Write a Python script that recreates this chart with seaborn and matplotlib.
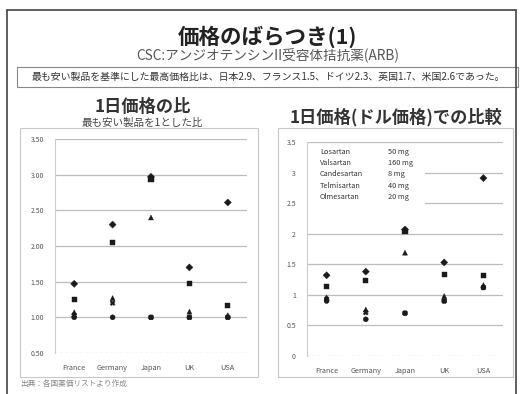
import numpy as np
import pandas as pd
import matplotlib
matplotlib.use("Agg")
import matplotlib.pyplot as plt
from matplotlib.patches import Rectangle
import seaborn as sns

# chart values
countries = ["France", "Germany", "Japan", "UK", "USA"]
drugs = ["Losartan", "Valsartan", "Candesartan", "Telmisartan", "Olmesartan"]
doses = ["50 mg", "160 mg", "8 mg", "40 mg", "20 mg"]

# ratio to the cheapest product (left)
ratio_france = [1.47, 1.25, 1.07, 1.03, 1.00]
ratio_germany = [2.30, 2.05, 1.27, 1.20, 1.00]
ratio_japan = [2.97, 2.93, 2.40, 1.00, 1.00]
ratio_uk = [1.70, 1.48, 1.08, 1.00, 1.00]
ratio_usa = [2.61, 1.17, 1.03, 1.00, 1.00]

# daily price in dollars (right)
usd_france = [1.32, 1.14, 0.96, 0.93, 0.90]
usd_germany = [1.38, 1.23, 0.76, 0.71, 0.60]
usd_japan = [2.07, 2.04, 1.69, 0.70, 0.70]
usd_uk = [1.53, 1.34, 0.98, 0.90, 0.90]
usd_usa = [2.91, 1.32, 1.16, 1.12, 1.12]

left_ticks = [0.5, 1.0, 1.5, 2.0, 2.5, 3.0, 3.5]
right_ticks = [0, 0.5, 1, 1.5, 2, 2.5, 3, 3.5]


def long_table(cols):
    rows = []
    for c, vals in zip(countries, cols):
        for d, v in zip(drugs, vals):
            rows.append({"country": c, "drug": d, "value": v})
    return pd.DataFrame(rows)


ratio_df = long_table([ratio_france, ratio_germany, ratio_japan, ratio_uk, ratio_usa])
usd_df = long_table([usd_france, usd_germany, usd_japan, usd_uk, usd_usa])

sns.set_style("white")
plt.rcParams["font.family"] = ["Noto Sans CJK JP", "DejaVu Sans"]

W, H = 525, 394
fig = plt.figure(figsize=(W / 100, H / 100), dpi=100)


def px(x0, y0, x1, y1):
    # pixel box -> figure fraction [left, bottom, width, height]
    return [x0 / W, 1 - y1 / H, (x1 - x0) / W, (y1 - y0) / H]


def fx(x):
    return x / W


def fy(y):
    return 1 - y / H


# slide frame
fig.add_artist(plt.Line2D([fx(7), fx(516)], [fy(10), fy(10)], color="#444444", lw=1.2))
fig.add_artist(plt.Line2D([fx(7), fx(7)], [fy(10), 0], color="#444444", lw=1.2))
fig.add_artist(plt.Line2D([fx(516), fx(516)], [fy(10), 0], color="#444444", lw=1.2))

# chart frames
for x0, x1 in [(20, 258), (278, 513)]:
    fig.add_artist(Rectangle((fx(x0), fy(377)), fx(x1) - fx(x0), fy(128) - fy(377),
                             fill=False, ec="#c8c8c8", lw=0.8, transform=fig.transFigure))

# headings
fig.text(fx(268), fy(37), "価格のばらつき(1)", ha="center", va="center",
         fontsize=15.5, fontweight="bold", color="#222222")
fig.text(fx(268), fy(56), "CSC:アンジオテンシンII受容体拮抗薬(ARB)", ha="center", va="center",
         fontsize=9.8, color="#555555")
fig.add_artist(Rectangle((fx(17), fy(87)), fx(518) - fx(17), fy(67) - fy(87),
                         fill=False, ec="#888888", lw=0.8, transform=fig.transFigure))
fig.text(fx(268), fy(77),
         "最も安い製品を基準にした最高価格比は、日本2.9、フランス1.5、ドイツ2.3、英国1.7、米国2.6であった。",
         ha="center", va="center", fontsize=7.1, color="#333333")

fig.text(fx(143), fy(107), "1日価格の比", ha="center", va="center",
         fontsize=12.4, fontweight="bold", color="#333333")
fig.text(fx(142), fy(123), "最も安い製品を1とした比", ha="center", va="center",
         fontsize=7.6, color="#444444")
fig.text(fx(396), fy(117), "1日価格(ドル価格)での比較", ha="center", va="center",
         fontsize=12.4, fontweight="bold", color="#333333")
fig.text(fx(20), fy(384), "出典：各国薬価リストより作成", ha="left", va="center",
         fontsize=5.5, color="#888888")

markers = dict(zip(drugs, ["D", "s", "^", "X", "o"]))


def draw(ax, df, ticks, fmt):
    for t in ticks[1:]:
        ax.axhline(t, color="#bdbdbd", lw=0.9, zorder=0)
    ax.axhline(ticks[0], color="#bdbdbd", lw=0.9, ls=(0, (2, 2)), zorder=0)
    sns.scatterplot(data=df, x="country", y="value", style="drug", markers=markers,
                    color="#1a1a1a", s=13, edgecolor="#1a1a1a", linewidth=0.3,
                    legend=False, ax=ax, zorder=3)
    ax.set_xlim(-0.5, len(countries) - 0.5)
    ax.set_ylim(ticks[0], ticks[-1])
    ax.set_yticks(ticks)
    ax.set_yticklabels([fmt.format(t) for t in ticks], fontsize=5, color="#555555")
    ax.tick_params(axis="x", labelsize=5.3, colors="#555555", length=0, pad=8)
    ax.tick_params(axis="y", length=0, pad=8)
    ax.set_xlabel("")
    ax.set_ylabel("")
    for s in ["top", "right", "bottom"]:
        ax.spines[s].set_visible(False)
    ax.spines["left"].set_color("#cccccc")
    ax.spines["left"].set_linewidth(0.8)
    ax.set_facecolor("white")


ax1 = fig.add_axes(px(55, 139, 247, 353))
draw(ax1, ratio_df, left_ticks, "{:.2f}")

ax2 = fig.add_axes(px(307, 142, 503, 356))
draw(ax2, usd_df, right_ticks, "{:g}")

# dose box over the right chart
ax2.add_patch(Rectangle((0.0, 0.66), 0.6, 0.31, transform=ax2.transAxes,
                        fc="white", ec="none", zorder=2))
for i, (d, q) in enumerate(zip(drugs, doses)):
    y = fy(152 + i * 11.2)
    fig.text(fx(320), y, d, ha="left", va="center", fontsize=5.3, color="#333333")
    fig.text(fx(388), y, q, ha="left", va="center", fontsize=5.3, color="#333333")

fig.savefig("out.png", dpi=100)
